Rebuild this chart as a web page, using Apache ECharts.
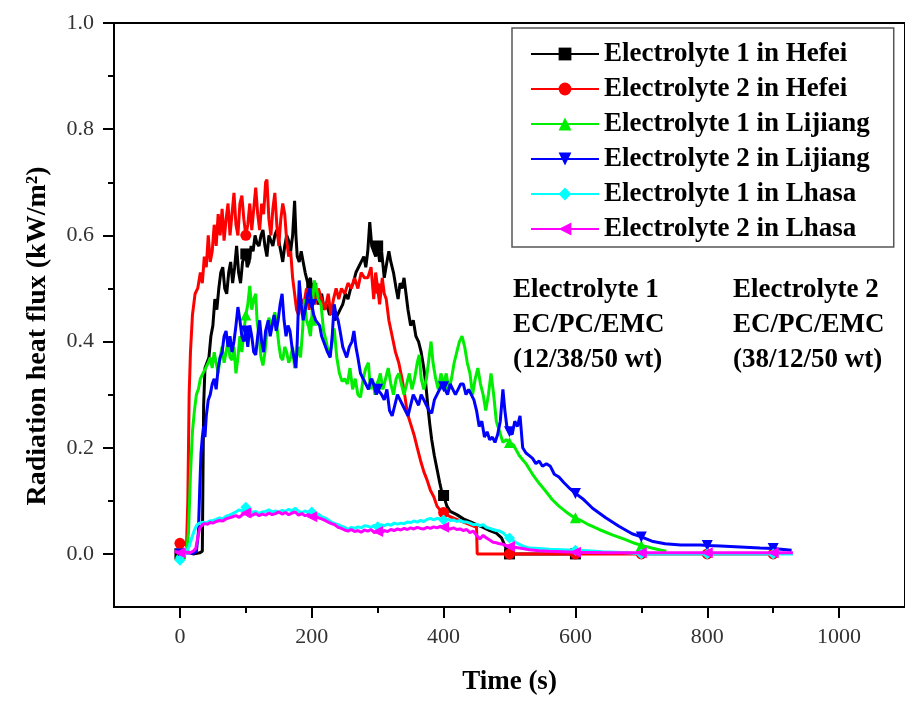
<!DOCTYPE html>
<html>
<head>
<meta charset="utf-8">
<script src="https://cdn.jsdelivr.net/npm/echarts@6/dist/echarts.min.js"></script>
<style>html,body{margin:0;padding:0;background:#fff;}#chart{width:905px;height:701px;}</style>
</head>
<body>
<div id="chart"></div>
<script>
// ---- data (time s, radiation heat flux kW/m2) ----
const seriesNames = ['Electrolyte 1 in Hefei','Electrolyte 2 in Hefei','Electrolyte 1 in Lijiang','Electrolyte 2 in Lijiang','Electrolyte 1 in Lhasa','Electrolyte 2 in Lhasa'];
const xMajor = [0,200,400,600,800,1000];
const xMinor = [100,300,500,700,900];
const yMajor = [0,0.2,0.4,0.6,0.8,1.0];
const yMinor = [0.1,0.3,0.5,0.7,0.9];

const e1Hefei = [[0,0.0],[10,0.005],[20,0.0],[30,0.002],[34,0.005],[35,0.15],[36,0.28],[38,0.35],[41,0.36],[44,0.37],[47,0.41],[50,0.43],[53,0.48],[56,0.46],[59,0.5],[62,0.53],[65,0.54],[68,0.5],[71,0.49],[74,0.53],[77,0.55],[80,0.51],[83,0.54],[86,0.58],[89,0.53],[92,0.51],[95,0.55],[100,0.565],[102,0.54],[105,0.55],[108,0.58],[111,0.57],[114,0.6],[117,0.585],[120,0.58],[123,0.6],[126,0.61],[129,0.58],[132,0.56],[135,0.6],[138,0.59],[141,0.58],[144,0.6],[147,0.61],[150,0.59],[153,0.57],[156,0.55],[159,0.58],[162,0.6],[165,0.59],[168,0.57],[171,0.6],[174,0.665],[176,0.6],[178,0.56],[181,0.55],[184,0.57],[187,0.55],[190,0.53],[194,0.51],[198,0.52],[200,0.5],[202,0.48],[206,0.5],[210,0.47],[215,0.49],[219,0.46],[223,0.47],[227,0.45],[231,0.46],[235,0.44],[239,0.45],[243,0.46],[247,0.47],[251,0.49],[255,0.48],[259,0.5],[263,0.51],[267,0.53],[271,0.54],[275,0.55],[279,0.56],[282,0.54],[285,0.57],[288,0.625],[291,0.58],[294,0.57],[297,0.56],[300,0.58],[303,0.55],[306,0.57],[310,0.52],[314,0.55],[317,0.57],[320,0.55],[324,0.53],[328,0.5],[331,0.48],[334,0.51],[337,0.5],[340,0.52],[343,0.49],[346,0.46],[350,0.43],[354,0.44],[358,0.41],[362,0.4],[366,0.38],[370,0.35],[373,0.32],[376,0.28],[379,0.245],[382,0.215],[386,0.185],[390,0.16],[394,0.135],[397,0.118],[400,0.11],[405,0.09],[410,0.08],[420,0.074],[430,0.066],[440,0.061],[450,0.055],[460,0.05],[470,0.044],[480,0.039],[488,0.03],[495,0.01],[500,0.0],[600,0.0]];

const e2Hefei = [[-5,0.015],[0,0.02],[5,0.022],[10,0.015],[12,0.1],[14,0.3],[16,0.38],[19,0.45],[23,0.49],[27,0.5],[31,0.53],[34,0.51],[37,0.56],[40,0.54],[43,0.6],[46,0.55],[49,0.57],[52,0.62],[55,0.58],[58,0.64],[61,0.6],[64,0.65],[67,0.59],[70,0.63],[73,0.66],[76,0.6],[79,0.64],[82,0.68],[85,0.62],[88,0.6],[91,0.66],[94,0.675],[97,0.63],[100,0.6],[103,0.62],[106,0.66],[109,0.61],[112,0.65],[115,0.69],[118,0.64],[121,0.61],[124,0.66],[127,0.64],[130,0.7],[132,0.705],[135,0.63],[138,0.6],[141,0.65],[144,0.68],[147,0.62],[150,0.58],[153,0.63],[156,0.66],[159,0.64],[162,0.59],[165,0.56],[168,0.57],[171,0.52],[174,0.52],[177,0.46],[180,0.45],[184,0.48],[188,0.47],[192,0.5],[196,0.46],[200,0.49],[205,0.47],[210,0.5],[215,0.48],[220,0.46],[225,0.49],[229,0.45],[233,0.48],[237,0.5],[241,0.48],[245,0.5],[250,0.49],[255,0.51],[260,0.5],[265,0.52],[270,0.5],[275,0.53],[280,0.52],[285,0.52],[290,0.54],[294,0.48],[297,0.53],[300,0.5],[303,0.47],[307,0.52],[310,0.49],[313,0.48],[317,0.44],[322,0.41],[327,0.38],[332,0.36],[337,0.33],[341,0.3],[345,0.265],[350,0.245],[355,0.225],[360,0.2],[365,0.176],[370,0.155],[375,0.139],[380,0.12],[385,0.108],[390,0.09],[395,0.082],[400,0.078],[410,0.07],[420,0.065],[430,0.06],[440,0.055],[450,0.05],[451,0.0],[500,0.0],[600,0.0],[700,0.0],[800,0.0],[900,0.0]];

const e1Lijiang = [[0,0.0],[5,0.003],[10,0.002],[13,0.04],[16,0.15],[19,0.23],[22,0.27],[25,0.3],[28,0.31],[31,0.33],[35,0.34],[39,0.35],[43,0.36],[46,0.37],[49,0.35],[52,0.38],[55,0.36],[58,0.34],[61,0.37],[64,0.39],[67,0.36],[70,0.38],[73,0.4],[76,0.37],[79,0.365],[82,0.39],[85,0.34],[88,0.37],[91,0.41],[94,0.38],[97,0.42],[100,0.45],[103,0.47],[106,0.505],[109,0.46],[112,0.48],[115,0.49],[117,0.44],[120,0.41],[123,0.37],[126,0.355],[129,0.38],[132,0.42],[135,0.445],[138,0.43],[141,0.44],[144,0.455],[147,0.43],[150,0.395],[153,0.37],[156,0.365],[159,0.39],[162,0.38],[165,0.36],[168,0.37],[171,0.39],[174,0.35],[177,0.37],[180,0.39],[183,0.37],[186,0.42],[189,0.48],[192,0.44],[195,0.43],[198,0.41],[200,0.44],[201,0.47],[204,0.515],[207,0.5],[210,0.48],[214,0.47],[218,0.42],[222,0.4],[226,0.375],[230,0.39],[234,0.425],[238,0.37],[242,0.34],[246,0.325],[250,0.33],[254,0.32],[258,0.35],[262,0.31],[266,0.33],[270,0.3],[274,0.295],[278,0.33],[282,0.35],[286,0.36],[289,0.31],[292,0.33],[296,0.3],[300,0.32],[304,0.34],[308,0.31],[312,0.33],[316,0.35],[320,0.32],[324,0.3],[328,0.33],[332,0.34],[336,0.32],[340,0.3],[344,0.32],[348,0.34],[352,0.31],[356,0.33],[360,0.36],[363,0.375],[366,0.33],[370,0.31],[374,0.33],[378,0.37],[381,0.4],[384,0.36],[388,0.33],[392,0.31],[396,0.34],[400,0.32],[404,0.34],[408,0.31],[412,0.33],[416,0.36],[420,0.38],[424,0.4],[428,0.41],[432,0.39],[436,0.36],[440,0.34],[444,0.3],[448,0.33],[452,0.35],[456,0.32],[460,0.3],[464,0.27],[468,0.3],[472,0.34],[476,0.3],[480,0.25],[485,0.23],[490,0.21],[495,0.215],[500,0.21],[506,0.205],[515,0.185],[525,0.17],[535,0.15],[545,0.133],[555,0.118],[565,0.102],[575,0.09],[585,0.08],[595,0.071],[600,0.068],[610,0.062],[620,0.055],[636,0.046],[656,0.036],[676,0.027],[690,0.02],[700,0.016],[716,0.011],[730,0.007],[738,0.005]];

const e2Lijiang = [[0,0.0],[10,0.002],[20,0.001],[25,0.005],[28,0.04],[30,0.12],[32,0.19],[34,0.22],[36,0.24],[38,0.22],[40,0.26],[43,0.29],[46,0.3],[49,0.32],[52,0.33],[55,0.31],[58,0.35],[61,0.37],[64,0.38],[67,0.41],[70,0.42],[73,0.39],[76,0.41],[79,0.38],[82,0.4],[85,0.43],[88,0.465],[91,0.44],[94,0.41],[97,0.4],[100,0.42],[103,0.39],[106,0.43],[109,0.41],[112,0.38],[115,0.375],[118,0.41],[121,0.44],[124,0.4],[127,0.38],[130,0.42],[134,0.44],[137,0.41],[140,0.43],[143,0.45],[146,0.42],[149,0.44],[152,0.47],[155,0.49],[158,0.44],[161,0.41],[164,0.43],[167,0.42],[170,0.39],[173,0.37],[176,0.35],[178,0.4],[181,0.515],[184,0.47],[187,0.44],[190,0.46],[194,0.49],[197,0.5],[200,0.47],[203,0.45],[206,0.44],[209,0.44],[212,0.43],[215,0.41],[218,0.4],[221,0.39],[224,0.38],[228,0.37],[231,0.41],[234,0.47],[237,0.45],[240,0.44],[243,0.42],[247,0.39],[250,0.38],[253,0.37],[257,0.39],[261,0.4],[264,0.42],[267,0.39],[270,0.37],[274,0.34],[278,0.33],[282,0.32],[286,0.31],[290,0.33],[294,0.32],[298,0.3],[300,0.31],[302,0.31],[306,0.3],[310,0.29],[314,0.31],[318,0.27],[322,0.26],[326,0.28],[330,0.3],[334,0.29],[338,0.28],[342,0.27],[346,0.26],[350,0.28],[354,0.3],[358,0.29],[362,0.28],[366,0.3],[370,0.29],[374,0.28],[378,0.27],[382,0.265],[386,0.29],[390,0.3],[394,0.31],[398,0.32],[400,0.315],[402,0.31],[406,0.3],[410,0.32],[414,0.31],[418,0.3],[422,0.31],[426,0.32],[430,0.32],[434,0.3],[438,0.31],[442,0.3],[446,0.29],[450,0.27],[454,0.24],[458,0.25],[462,0.22],[466,0.23],[470,0.215],[474,0.22],[478,0.21],[482,0.225],[486,0.25],[490,0.31],[493,0.27],[496,0.24],[500,0.23],[504,0.225],[508,0.25],[512,0.24],[516,0.26],[520,0.2],[525,0.19],[530,0.185],[535,0.18],[540,0.17],[545,0.175],[550,0.165],[556,0.17],[562,0.165],[568,0.15],[575,0.145],[582,0.135],[590,0.125],[600,0.114],[611,0.104],[626,0.086],[646,0.068],[666,0.052],[686,0.038],[700,0.032],[716,0.024],[736,0.019],[760,0.017],[790,0.017],[800,0.016],[820,0.015],[850,0.013],[880,0.011],[900,0.01],[928,0.007]];

const e1Lhasa = [[-5,-0.004],[0,-0.012],[5,-0.005],[10,0.005],[14,0.014],[18,0.03],[22,0.045],[26,0.055],[30,0.058],[35,0.06],[40,0.058],[45,0.062],[50,0.063],[55,0.065],[60,0.068],[65,0.066],[70,0.071],[75,0.073],[80,0.076],[85,0.079],[90,0.083],[95,0.081],[100,0.088],[105,0.082],[110,0.078],[115,0.08],[120,0.076],[125,0.079],[130,0.08],[135,0.083],[140,0.079],[145,0.081],[150,0.078],[155,0.082],[160,0.08],[165,0.084],[170,0.081],[175,0.086],[180,0.08],[185,0.078],[190,0.081],[195,0.077],[200,0.079],[205,0.074],[210,0.075],[215,0.07],[220,0.068],[225,0.064],[230,0.06],[235,0.057],[240,0.055],[245,0.052],[250,0.05],[255,0.046],[260,0.05],[265,0.048],[270,0.051],[275,0.049],[280,0.053],[285,0.052],[290,0.05],[295,0.054],[300,0.051],[305,0.055],[310,0.053],[315,0.056],[320,0.054],[325,0.058],[330,0.056],[335,0.058],[340,0.057],[345,0.06],[350,0.059],[355,0.062],[360,0.06],[365,0.063],[370,0.061],[375,0.065],[380,0.067],[385,0.064],[390,0.067],[395,0.066],[400,0.064],[405,0.066],[410,0.063],[415,0.064],[420,0.061],[425,0.063],[430,0.06],[435,0.06],[440,0.058],[445,0.055],[450,0.056],[455,0.053],[460,0.055],[465,0.05],[470,0.048],[475,0.046],[480,0.044],[485,0.043],[490,0.04],[495,0.034],[500,0.03],[505,0.026],[510,0.021],[515,0.018],[520,0.015],[530,0.011],[545,0.01],[560,0.009],[580,0.008],[600,0.007],[620,0.006],[640,0.004],[660,0.003],[680,0.002],[700,0.0],[800,0.0],[900,0.0],[930,0.0]];

const e2Lhasa = [[-8,0.005],[0,0.002],[5,0.004],[10,0.003],[15,0.002],[20,0.005],[24,0.01],[27,0.03],[30,0.048],[34,0.055],[38,0.057],[42,0.056],[46,0.059],[50,0.058],[55,0.061],[60,0.063],[65,0.062],[70,0.066],[75,0.068],[80,0.07],[85,0.072],[90,0.069],[95,0.074],[100,0.077],[105,0.071],[110,0.073],[115,0.076],[120,0.072],[125,0.075],[130,0.073],[135,0.077],[140,0.074],[145,0.076],[150,0.079],[155,0.075],[160,0.078],[165,0.074],[170,0.077],[175,0.079],[180,0.073],[185,0.076],[190,0.072],[195,0.074],[200,0.07],[205,0.072],[210,0.068],[215,0.066],[220,0.063],[225,0.06],[230,0.057],[235,0.055],[240,0.05],[245,0.048],[250,0.045],[255,0.043],[260,0.046],[265,0.042],[270,0.044],[275,0.041],[280,0.045],[285,0.043],[290,0.046],[295,0.04],[300,0.042],[305,0.038],[310,0.044],[315,0.042],[320,0.046],[325,0.044],[330,0.047],[335,0.045],[340,0.048],[345,0.046],[350,0.049],[355,0.047],[360,0.05],[365,0.048],[370,0.047],[375,0.05],[380,0.048],[385,0.051],[390,0.049],[395,0.052],[400,0.05],[405,0.048],[410,0.047],[415,0.049],[420,0.046],[425,0.047],[430,0.044],[435,0.046],[440,0.04],[445,0.043],[450,0.035],[455,0.028],[460,0.035],[465,0.03],[470,0.026],[475,0.022],[480,0.021],[485,0.019],[490,0.018],[495,0.016],[500,0.014],[510,0.012],[520,0.01],[530,0.008],[545,0.006],[560,0.005],[580,0.004],[600,0.003],[650,0.002],[700,0.002],[750,0.002],[800,0.002],[850,0.002],[900,0.002],[930,0.002]];

const seriesData = [e1Hefei, e2Hefei, e1Lijiang, e2Lijiang, e1Lhasa, e2Lhasa];
const seriesColors = ['#000000','#ff0000','#00ee00','#0000ff','#00ffff','#ff00ff'];
const seriesSymbols = ['rect','circle','triangle','triangle','diamond','triangle'];
const seriesRotate = [0,0,0,180,0,90];

const FONT = "'Liberation Serif','Times New Roman',serif";

const chart = echarts.init(document.getElementById('chart'), null, {renderer:'canvas'});

const series = seriesNames.map((name, i) => ({
  name: name,
  type: 'line',
  data: seriesData[i],
  xAxisIndex: 0,
  yAxisIndex: 0,
  showSymbol: true,
  symbol: seriesSymbols[i],
  symbolRotate: seriesRotate[i],
  symbolSize: (v) => (Math.abs(v[0] % 100) < 1e-9 ? 11 : 0),
  lineStyle: {color: seriesColors[i], width: 3},
  itemStyle: {color: seriesColors[i], borderWidth: 0},
  emphasis: {disabled: true},
  animation: false,
  z: 2 + i
}));

const axisTextStyle = {fontFamily: FONT, fontSize: 22, color: '#333'};

const option = {
  animation: false,
  backgroundColor: '#ffffff',
  grid: {left: 114, right: -6, top: 23, bottom: 90, show: true, borderColor: '#000', borderWidth: 2, backgroundColor: 'transparent'},
  xAxis: [
    {type: 'value', min: -100, max: 1100, interval: 100, position: 'bottom',
     axisLine: {show: true, onZero: false, lineStyle: {color: '#000', width: 2}},
     axisTick: {show: true, inside: false, customValues: xMajor, length: 11, lineStyle: {color: '#000', width: 2}},
     axisLabel: Object.assign({customValues: xMajor, margin: 19, formatter: (v) => String(Math.round(v))}, axisTextStyle),
     splitLine: {show: false},
     name: 'Time (s)', nameLocation: 'middle', nameGap: 62,
     nameTextStyle: {fontFamily: FONT, fontSize: 27, fontWeight: 'bold', color: '#000'}},
    {type: 'value', min: -100, max: 1100, interval: 100, position: 'bottom', offset: 0,
     axisLine: {show: false, onZero: false},
     axisTick: {show: true, inside: false, customValues: xMinor, length: 6, lineStyle: {color: '#000', width: 2}},
     axisLabel: {show: false}, splitLine: {show: false}}
  ],
  yAxis: [
    {type: 'value', min: -0.1, max: 1.0, position: 'left',
     axisLine: {show: true, onZero: false, lineStyle: {color: '#000', width: 2}},
     axisTick: {show: true, inside: false, customValues: yMajor, length: 11, lineStyle: {color: '#000', width: 2}},
     axisLabel: Object.assign({customValues: yMajor, margin: 20, formatter: (v) => Number(v).toFixed(1)}, axisTextStyle),
     splitLine: {show: false}},
    {type: 'value', min: -0.1, max: 1.0, position: 'left', offset: 0,
     axisLine: {show: false, onZero: false},
     axisTick: {show: true, inside: false, customValues: yMinor, length: 6, lineStyle: {color: '#000', width: 2}},
     axisLabel: {show: false}, splitLine: {show: false}}
  ],
  legend: {
    orient: 'vertical', left: 512, top: 28,
    itemWidth: 68, itemHeight: 16, itemGap: 5,
    padding: [11, 24, 3, 18],
    borderColor: '#555', borderWidth: 1.5, backgroundColor: '#fff',
    textStyle: {fontFamily: FONT, fontSize: 27, fontWeight: 'bold', color: '#000', lineHeight: 30},
    data: seriesNames
  },
  graphic: [
    {type: 'text', x: 38, y: 336, rotation: Math.PI / 2,
     style: {text: 'Radiation heat flux (kW/m\u00b2)', fontFamily: FONT, fontSize: 28, fontWeight: 'bold', fill: '#000', align: 'center', verticalAlign: 'middle'}},
    {type: 'text', x: 513, y: 273,
     style: {text: 'Electrolyte 1\nEC/PC/EMC\n(12/38/50 wt)', fontFamily: FONT, fontSize: 27, fontWeight: 'bold', fill: '#000', lineHeight: 35, align: 'left', verticalAlign: 'top'}},
    {type: 'text', x: 733, y: 273,
     style: {text: 'Electrolyte 2\nEC/PC/EMC\n(38/12/50 wt)', fontFamily: FONT, fontSize: 27, fontWeight: 'bold', fill: '#000', lineHeight: 35, align: 'left', verticalAlign: 'top'}}
  ],
  series: series
};
chart.setOption(option);
</script>
</body>
</html>
